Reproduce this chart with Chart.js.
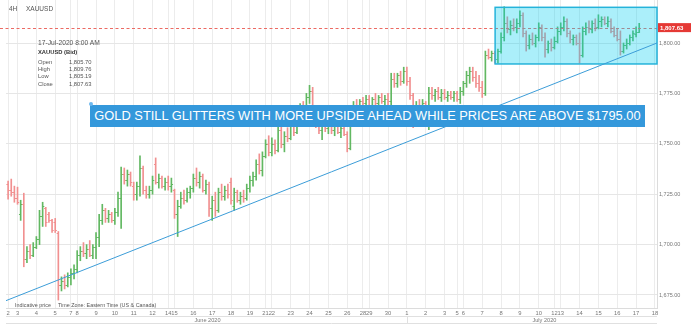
<!DOCTYPE html>
<html>
<head>
<meta charset="utf-8">
<title>XAUUSD 4H</title>
<script src="https://cdn.jsdelivr.net/npm/chart.js@4.4.1/dist/chart.umd.min.js"></script>
<style>
  body { margin: 0; background: #fff; }
  #wrap { position: relative; width: 700px; height: 333px; overflow: hidden; font-family: "Liberation Sans", Arial, sans-serif; }
  #myChart { position: absolute; left: 0; top: 0; }
  .lbl { position: absolute; white-space: nowrap; color: #555; line-height: 1; }
  #banner { position: absolute; left: 90px; top: 105px; width: 555px; height: 22px; background: #3498db; color: #fff;
            line-height: 22px; text-align: center; white-space: nowrap; font-size: 15px; }
  #dot { position: absolute; left: 89px; top: 102px; width: 4px; height: 4px; border-radius: 2px; background: #6db8ee; }
</style>
</head>
<body>
<div id="wrap">
  <canvas id="myChart" width="700" height="333"></canvas>
  <div class="lbl" style="left:9px;top:5.5px;font-size:6.5px">4H</div>
  <div class="lbl" style="left:26px;top:5.5px;font-size:6.5px">XAUUSD</div>
  <div class="lbl" style="left:38px;top:39.5px;font-size:6.7px">17-Jul-2020 8:00 AM</div>
  <div class="lbl" style="left:38px;top:50px;font-size:5.8px;font-weight:bold;color:#333">XAUUSD (Bid)</div>
  <div id="info"></div>
  <div class="lbl" style="left:15px;top:303px;font-size:5.4px">Indicative price</div>
  <div class="lbl" style="left:58px;top:303px;font-size:5.4px">Time Zone: Eastern Time (US &amp; Canada)</div>
  <div id="banner">GOLD STILL GLITTERS WITH MORE UPSIDE AHEAD WHILE PRICES ARE ABOVE $1795.00</div>
  <div id="dot"></div>
</div>
<script>
// days on the axis and how many 4H slots each one takes
const dayLabels = ['2','3','4','5','7', '8','9','10','11','12','14', '15','16','17','18','19','21',
                   '22','23','24','25','26','28', '29','30','1','2','3','5', '6','7','8','9','10','12',
                   '13','14','15','16','17','18'];
const daySlots  = [3,6,6,5,2, 6,6,6,6,5,2, 6,6,6,6,5,2, 6,6,6,6,5,2, 6,6,6,6,4,2, 6,6,6,6,5,2, 6,6,6,6,6,0];
const months = ['June 2020', 'July 2020'];
const monthFirstDay = [0, 25];

// 4H OHLC bars, XAUUSD
const opens = [
  1730,1727,1726,1723,1715,1720,1693,1697,1695,1699,1703,1714,1718,1715,1712,1711,1706,1680,1682,1680,
  1684,1686,1688,1695,1697,1696,1698,1695,1699,1704,1712,1717,1713,1715,1712,1716,1723,1735,1732,1735,
  1729,1725,1729,1738,1727,1725,1727,1740,1731,1733,1729,1731,1729,1727,1715,1719,1723,1722,1726,1728,
  1733,1731,1734,1727,1730,1718,1722,1717,1726,1724,1727,1731,1719,1726,1722,1724,1723,1728,1732,1734,
  1740,1737,1744,1750,1746,1750,1747,1757,1750,1754,1753,1759,1756,1763,1768,1767,1773,1776,1768,1760,
  1757,1760,1758,1760,1757,1759,1756,1758,1755,1748,1761,1769,1768,1771,1770,1772,1769,1772,1770,1773,
  1771,1772,1771,1782,1780,1784,1781,1786,1781,1774,1764,1769,1768,1770,1766,1775,1774,1776,1773,1775,
  1773,1774,1773,1775,1772,1776,1780,1784,1786,1783,1780,1778,1775,1794,1793,1795,1792,1796,1803,1810,
  1807,1809,1808,1810,1814,1805,1799,1802,1800,1803,1808,1803,1797,1800,1798,1801,1806,1808,1811,1805,
  1802,1803,1800,1794,1806,1808,1807,1810,1808,1811,1812,1810,1811,1806,1804,1802,1796,1799,1800,1803,
  1804.5,1805.70
];
const highs = [
  1731.5,1732.5,1729,1728.5,1722,1725.5,1699,1700,1701,1704,1717,1721,1718.5,1716,1712.5,1713,1706.5,1684,1685,1686,
  1688,1690,1697,1699,1701,1700,1702,1700,1706,1715,1720,1718,1717,1716,1718,1726,1738.5,1738,1737,1736,
  1731,1731,1744,1739,1729,1729,1734,1743,1735,1734,1733,1734,1733,1727.5,1722,1726,1727,1728,1729,1735,
  1738,1736,1735,1732,1731,1724,1726,1728,1730,1729,1730,1733,1728,1727,1726,1727,1730,1734,1736,1742,
  1745,1746,1752,1754,1753,1752,1760,1759,1756,1758,1762,1762,1765,1770,1771,1775,1779,1778,1769,1764,
  1762,1763,1762,1762,1761,1761,1760,1761,1756,1763,1771,1772,1772,1773,1774,1774,1773,1775,1774,1775,
  1774,1775,1785,1785,1785,1786,1788,1788,1783,1775,1771,1772,1772,1771,1778,1778,1777,1778,1777,1777,
  1776,1776,1776,1776,1778,1781,1786,1788,1788,1786,1784,1781,1796,1797,1796,1796,1797,1805,1818,1813,
  1811,1812,1812,1816,1815,1806,1804,1805,1804,1810,1809,1805,1801,1802,1803,1808,1810,1813,1812,1806,
  1804,1804,1805,1808,1810,1811,1811,1812,1814,1813,1813,1813,1812,1808,1807,1806,1800,1802,1804,1806,
  1808,1809.76
];
const lows = [
  1722.5,1724,1721,1720,1712,1689,1691,1693,1694,1698,1700,1709,1709,1711,1706,1706,1672.5,1677,1678,1679,
  1680,1683,1686,1692,1694,1693,1694,1693,1693,1699,1710,1711,1711,1711,1710,1714,1708,1730,1729,1729,
  1722,1722,1724,1725,1723,1723,1725,1730,1728,1728,1727,1727,1726,1713,1704,1718,1720,1721,1723,1726,
  1729,1728,1726,1725,1714,1712,1714,1716,1722,1722,1723,1720,1717,1721,1720,1721,1722,1726,1729,1732,
  1735,1734,1743,1744,1744,1745,1746,1748,1746,1751,1752,1754,1755,1761,1765,1766,1770,1766,1758,1755,
  1752,1756,1755,1755,1754,1755,1753,1754,1746,1747,1760,1766,1765,1768,1769,1768,1767,1769,1768,1770,
  1768,1769,1768,1778,1778,1779,1780,1779,1772,1758,1762,1766,1765,1765,1757,1772,1771,1772,1771,1772,
  1771,1772,1771,1771,1770,1774,1778,1780,1781,1778,1776,1773,1774,1792,1791,1790,1790,1795,1801,1805,
  1804,1806,1805,1808,1803,1796,1797,1799,1798,1801,1801,1793,1795,1796,1797,1800,1804,1806,1803,1800,
  1799,1799,1790,1793,1804,1805,1805,1806,1807,1808,1809,1808,1805,1803,1801,1794,1795,1797,1799,1801,
  1803,1805.19
];
const closes = [
  1727,1726,1723,1721,1720,1693,1697,1695,1699,1703,1714,1719,1711,1712,1707,1707,1680,1682,1680,1684,
  1686,1688,1695,1697,1696,1698,1695,1699,1704,1712,1717,1713,1715,1712,1716,1723,1735,1732,1735,1731,
  1725,1729,1738,1727,1725,1727,1732,1731,1733,1729,1731,1729,1730,1715,1719,1723,1722,1726,1728,1733,
  1731,1734,1727,1730,1718,1722,1717,1726,1724,1727,1725,1722,1726,1722,1724,1723,1728,1732,1734,1740,
  1737,1744,1750,1746,1750,1747,1757,1750,1754,1753,1759,1756,1763,1768,1767,1773,1776,1768,1760,1757,
  1760,1758,1760,1757,1759,1756,1758,1755,1748,1761,1769,1768,1771,1770,1772,1769,1772,1770,1773,1771,
  1772,1771,1782,1780,1784,1781,1786,1781,1774,1764,1769,1768,1770,1766,1775,1774,1776,1773,1775,1773,
  1774,1773,1775,1772,1776,1780,1784,1786,1783,1780,1778,1775,1794,1793,1795,1792,1796,1803,1810,1807,
  1809,1808,1810,1814,1805,1799,1802,1800,1803,1808,1803,1797,1800,1798,1801,1806,1808,1811,1805,1802,
  1803,1800,1794,1806,1808,1807,1810,1808,1811,1812,1810,1811,1806,1804,1802,1796,1799,1800,1803,1805,
  1805.70,1807.63
];

const yTicks = [1675, 1700, 1725, 1750, 1775, 1800];

// drawn annotations: support line and the consolidation box (index, price)
const trendIdx = [-0.67, 206.66];
const trendPrice = [1672.2, 1800];
const boxStartIdx = 155.1;
const boxPrice = [1789.6, 1817.7];

const upColor = '#62b862';
const downColor = '#f19090';

// slot index of the first bar of each day, and the x position of each bar
const dayStart = [];
let acc = 0;
daySlots.forEach(n => { dayStart.push(acc); acc += n; });
const barX = closes.map((_, i) => i);

const fmt = v => v.toLocaleString('en-US', {minimumFractionDigits: 2, maximumFractionDigits: 2});

// info box (last bar)
const last = closes.length - 1;
const infoRows = [['Open', opens[last]], ['High', highs[last]], ['Low', lows[last]], ['Close', closes[last]]];
document.getElementById('info').innerHTML = infoRows.map((r, k) =>
  '<div class="lbl" style="left:38px;top:' + (59.5 + k * 7.4) + 'px;font-size:5.8px">' + r[0] + '</div>' +
  '<div class="lbl" style="left:69px;top:' + (59.5 + k * 7.4) + 'px;font-size:5.8px">' + fmt(r[1]) + '</div>'
).join('');

// squeeze banner text to the banner width
(function () {
  const b = document.getElementById('banner');
  const c = document.createElement('canvas').getContext('2d');
  c.font = '15px "Liberation Sans"';
  const w = c.measureText(b.textContent).width;
  b.style.fontSize = (15 * 549 / w).toFixed(2) + 'px';
})();

Chart.defaults.font.family = '"Liberation Sans", Arial, sans-serif';
Chart.defaults.color = '#777';

const ohlcExtras = {
  id: 'ohlcExtras',
  afterDatasetDraw(chart, args) {
    if (args.index !== 0) return;
    const {ctx, chartArea: a, scales: {x, y}} = chart;
    ctx.save();
    ctx.beginPath();
    ctx.rect(a.left, a.top, a.right - a.left, a.bottom - a.top);
    ctx.clip();
    ctx.lineWidth = 1;
    barX.forEach((bx, i) => {
      const px = x.getPixelForValue(bx);
      const yo = Math.round(y.getPixelForValue(opens[i])) + 0.5;
      const yc = Math.round(y.getPixelForValue(closes[i])) + 0.5;
      ctx.strokeStyle = closes[i] >= opens[i] ? upColor : downColor;
      ctx.beginPath();
      ctx.moveTo(px - 1.7, yo); ctx.lineTo(px, yo);
      ctx.moveTo(px, yc); ctx.lineTo(px + 1.7, yc);
      ctx.stroke();
    });
    ctx.restore();

    // last price line
    const yl = Math.round(y.getPixelForValue(closes[last])) + 0.5;
    ctx.save();
    ctx.strokeStyle = '#ec6a63';
    ctx.setLineDash([3, 2.5]);
    ctx.beginPath();
    ctx.moveTo(0, yl); ctx.lineTo(a.right, yl);
    ctx.stroke();
    ctx.restore();

    // consolidation box
    const bx0 = x.getPixelForValue(boxStartIdx);
    const by0 = y.getPixelForValue(boxPrice[1]);
    const by1 = y.getPixelForValue(boxPrice[0]);
    ctx.save();
    ctx.fillStyle = 'rgba(0, 205, 240, 0.33)';
    ctx.fillRect(bx0, by0, a.right - bx0, by1 - by0);
    ctx.strokeStyle = '#25b3da';
    ctx.lineWidth = 1.5;
    ctx.strokeRect(bx0, by0, a.right - bx0, by1 - by0);
    ctx.restore();
  },
  afterDraw(chart) {
    const {ctx, chartArea: a, scales: {x, y}} = chart;
    // price tag on the axis
    const yl = y.getPixelForValue(closes[last]);
    ctx.save();
    ctx.fillStyle = '#e53935';
    ctx.fillRect(a.right + 1, yl - 4.5, 33, 9);
    ctx.fillStyle = '#fff';
    ctx.font = 'bold 6px "Liberation Sans"';
    ctx.textBaseline = 'middle';
    ctx.fillText(fmt(closes[last]), a.right + 3, yl + 0.5);
    ctx.restore();

    // month row under the day labels
    const r0 = 316.5, r1 = 323.5;
    ctx.save();
    ctx.strokeStyle = '#e0e0e0';
    ctx.lineWidth = 1;
    ctx.beginPath();
    ctx.moveTo(a.left, r0); ctx.lineTo(a.right, r0);
    ctx.moveTo(a.left, r1); ctx.lineTo(a.right, r1);
    ctx.fillStyle = '#777';
    ctx.font = '5.6px "Liberation Sans"';
    ctx.textAlign = 'center';
    ctx.textBaseline = 'middle';
    months.forEach((m, k) => {
      const s = x.getPixelForValue(dayStart[monthFirstDay[k]]);
      const e = k + 1 < months.length ? x.getPixelForValue(dayStart[monthFirstDay[k + 1]]) : a.right + 25;
      if (k > 0) { ctx.moveTo(Math.round(s) + 0.5, r0); ctx.lineTo(Math.round(s) + 0.5, r1); }
      ctx.fillText(m, (s + e) / 2, 320.5);
    });
    ctx.stroke();
    ctx.restore();
  }
};

const ctx = document.getElementById('myChart').getContext('2d');

const myChart = new Chart(ctx, {
  data: {
    datasets: [{
      type: 'bar',
      label: 'XAUUSD',
      data: barX.map((bx, i) => ({x: bx, y: [lows[i], highs[i]]})),
      backgroundColor: barX.map((_, i) => closes[i] >= opens[i] ? upColor : downColor),
      barThickness: 1,
      grouped: false,
      order: 2
    }, {
      type: 'line',
      label: 'Trend',
      data: trendIdx.map((v, k) => ({x: v, y: trendPrice[k]})),
      borderColor: '#3c9dd8',
      borderWidth: 1,
      pointRadius: 0,
      order: 1
    }]
  },
  options: {
    responsive: false,
    animation: false,
    events: [],
    layout: {padding: {left: 6, top: 0, right: 0, bottom: 0}},
    plugins: {legend: {display: false}, tooltip: {enabled: false}},
    scales: {
      x: {
        type: 'linear',
        offset: false,
        min: -0.67,
        max: 206.66,
        afterBuildTicks: s => { s.ticks = dayStart.map(v => ({value: v})); },
        afterFit: s => { s.height = 25; s.paddingLeft = 0; s.paddingRight = 0; },
        ticks: {
          autoSkip: false,
          maxRotation: 0,
          padding: 2,
          font: {size: 5.8},
          color: '#777',
          callback: (v, i) => dayLabels[i]
        },
        grid: {color: '#ececec', drawTicks: false, offset: false},
        border: {color: '#dcdcdc'}
      },
      y: {
        position: 'right',
        min: 1668.55,
        max: 1821.33,
        afterBuildTicks: s => { s.ticks = yTicks.map(v => ({value: v})); },
        afterFit: s => { s.width = 43; s.paddingTop = 0; s.paddingBottom = 0; },
        ticks: {
          padding: 2,
          font: {size: 5.5},
          color: '#777',
          callback: v => fmt(v)
        },
        grid: {color: '#e6e6e6', drawTicks: false},
        border: {color: '#dcdcdc'}
      }
    }
  },
  plugins: [ohlcExtras]
});
</script>
</body>
</html>
